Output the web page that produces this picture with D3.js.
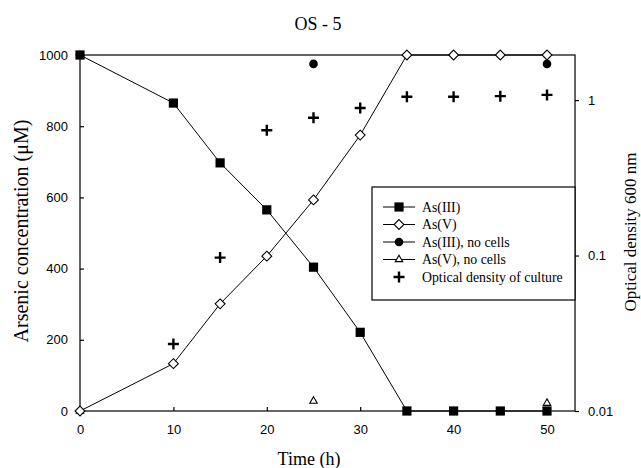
<!DOCTYPE html>
<html>
<head>
<meta charset="utf-8">
<script src="https://cdn.jsdelivr.net/npm/d3@7"></script>
<style>
  body { margin: 0; background: #fff; }
  svg { display: block; }
</style>
</head>
<body>
<script>
// values
const hours = [0, 10, 15, 20, 25, 30, 35, 40, 45, 50];
const as3 = [1000, 865, 697, 565, 404, 221, 0, 0, 0, 0];
const as5 = [0, 133, 301, 435, 593, 775, 1000, 1000, 1000, 1000];
const noCellsHours = [0, 25, 50];
const as3NoCells = [1000, 975, 975];
const as5NoCells = [0, 28, 22];
const odHours = [10, 15, 20, 25, 30, 35, 40, 45, 50];
const od = [0.027, 0.097, 0.64, 0.77, 0.89, 1.05, 1.05, 1.06, 1.08];
const legendLabels = ["As(III)", "As(V)", "As(III), no cells", "As(V), no cells", "Optical density of culture"];

const width = 641, height = 468;
const plotLeft = 80, plotTop = 55, plotBottom = 411;

const svg = d3.select("body").append("svg")
    .attr("width", width)
    .attr("height", height);

const x = d3.scaleLinear().domain([0, 53]).range([plotLeft, plotLeft + (547 - plotLeft) * 53 / 50]);
const y = d3.scaleLinear().domain([0, 1000]).range([plotBottom, plotTop]);
const yOd = d3.scaleLog().domain([0.01, 1.95]).range([plotBottom, plotTop]);

// frame
svg.append("rect")
    .attr("x", plotLeft).attr("y", plotTop)
    .attr("width", x(53) - plotLeft).attr("height", plotBottom - plotTop)
    .attr("fill", "none").attr("stroke", "#000").attr("stroke-width", 1.2);

const sans = "'Liberation Sans', Arial, sans-serif";
const serif = "'Liberation Serif', 'Times New Roman', serif";

const xAxis = svg.append("g")
    .attr("transform", `translate(0,${plotBottom})`)
    .call(d3.axisBottom(x).tickValues([0, 10, 20, 30, 40, 50]).tickSize(-4).tickPadding(14));
const yAxis = svg.append("g")
    .attr("transform", `translate(${plotLeft},0)`)
    .call(d3.axisLeft(y).tickValues([0, 200, 400, 600, 800, 1000]).tickFormat(d3.format("d")).tickSize(-4).tickPadding(12));
const yAxisR = svg.append("g")
    .attr("transform", `translate(${x(53)},0)`)
    .call(d3.axisRight(yOd).tickValues([0.01, 0.1, 1]).tickFormat(d3.format("")).tickSize(4).tickPadding(9));

for (const g of [xAxis, yAxis, yAxisR]) {
    g.select(".domain").remove();
    g.selectAll("line").attr("stroke-width", 1.2);
    g.selectAll("text").style("font-family", sans).style("font-size", "13px").attr("fill", "#000");
}

// lines
const line = d3.line().x(d => x(d[0])).y(d => y(d[1]));
svg.append("path")
    .attr("d", line(d3.zip(hours, as3)))
    .attr("fill", "none").attr("stroke", "#000").attr("stroke-width", 1);
svg.append("path")
    .attr("d", line(d3.zip(hours, as5)))
    .attr("fill", "none").attr("stroke", "#000").attr("stroke-width", 1);

const sym = {
    square: d3.symbol().type(d3.symbolSquare).size(85),
    diamond: d3.symbol().type(d3.symbolDiamond2).size(62),
    circle: d3.symbol().type(d3.symbolCircle).size(58),
    triangle: d3.symbol().type(d3.symbolTriangle2).size(40)
};

function drawMarks(xs, ys, scale, kind) {
    svg.append("g").selectAll("path")
        .data(d3.zip(xs, ys))
        .join("path")
        .attr("transform", d => `translate(${x(d[0])},${scale(d[1])})`)
        .call(styleMark, kind);
}

function styleMark(sel, kind) {
    if (kind === "cross") {
        sel.attr("d", "M-5.5,0H5.5M0,-5.5V5.5").attr("fill", "none").attr("stroke", "#000").attr("stroke-width", 2.4);
    } else if (kind === "diamond" || kind === "triangle") {
        sel.attr("d", sym[kind]()).attr("fill", "#fff").attr("stroke", "#000").attr("stroke-width", 1.1);
    } else {
        sel.attr("d", sym[kind]()).attr("fill", "#000").attr("stroke", "none");
    }
}

drawMarks(noCellsHours, as5NoCells, y, "triangle");
drawMarks(hours, as3, y, "square");
drawMarks(noCellsHours, as3NoCells, y, "circle");
drawMarks(hours, as5, y, "diamond");
drawMarks(odHours, od, yOd, "cross");

// legend
const legend = svg.append("g").attr("transform", "translate(372,187)");
legend.append("rect")
    .attr("width", 203).attr("height", 113)
    .attr("fill", "#fff").attr("stroke", "#000").attr("stroke-width", 1.2);
const kinds = ["square", "diamond", "circle", "triangle", "cross"];
const row = legend.selectAll("g.row")
    .data(legendLabels)
    .join("g")
    .attr("class", "row")
    .attr("transform", (d, i) => `translate(0,${20 + i * 17.5})`);
row.filter((d, i) => i < 4).append("line")
    .attr("x1", 11).attr("x2", 43)
    .attr("stroke", "#000").attr("stroke-width", 1);
row.append("path")
    .attr("transform", "translate(27,0)")
    .each(function(d, i) { d3.select(this).call(styleMark, kinds[i]); });
row.append("text")
    .attr("x", 50).attr("dy", "0.35em")
    .style("font-family", serif).style("font-size", "13.8px")
    .text(d => d);

// titles
svg.append("text")
    .attr("x", 318).attr("y", 30)
    .attr("text-anchor", "middle")
    .style("font-family", serif).style("font-size", "18px")
    .text("OS - 5");
svg.append("text")
    .attr("x", 309).attr("y", 465)
    .attr("text-anchor", "middle")
    .style("font-family", serif).style("font-size", "18px")
    .text("Time (h)");
svg.append("text")
    .attr("transform", `translate(28,231) rotate(-90)`)
    .attr("text-anchor", "middle")
    .style("font-family", serif).style("font-size", "20px")
    .text("Arsenic concentration (μM)");
svg.append("text")
    .attr("transform", `translate(636,232) rotate(-90)`)
    .attr("text-anchor", "middle")
    .style("font-family", serif).style("font-size", "17px")
    .text("Optical density 600 nm");
</script>
</body>
</html>
